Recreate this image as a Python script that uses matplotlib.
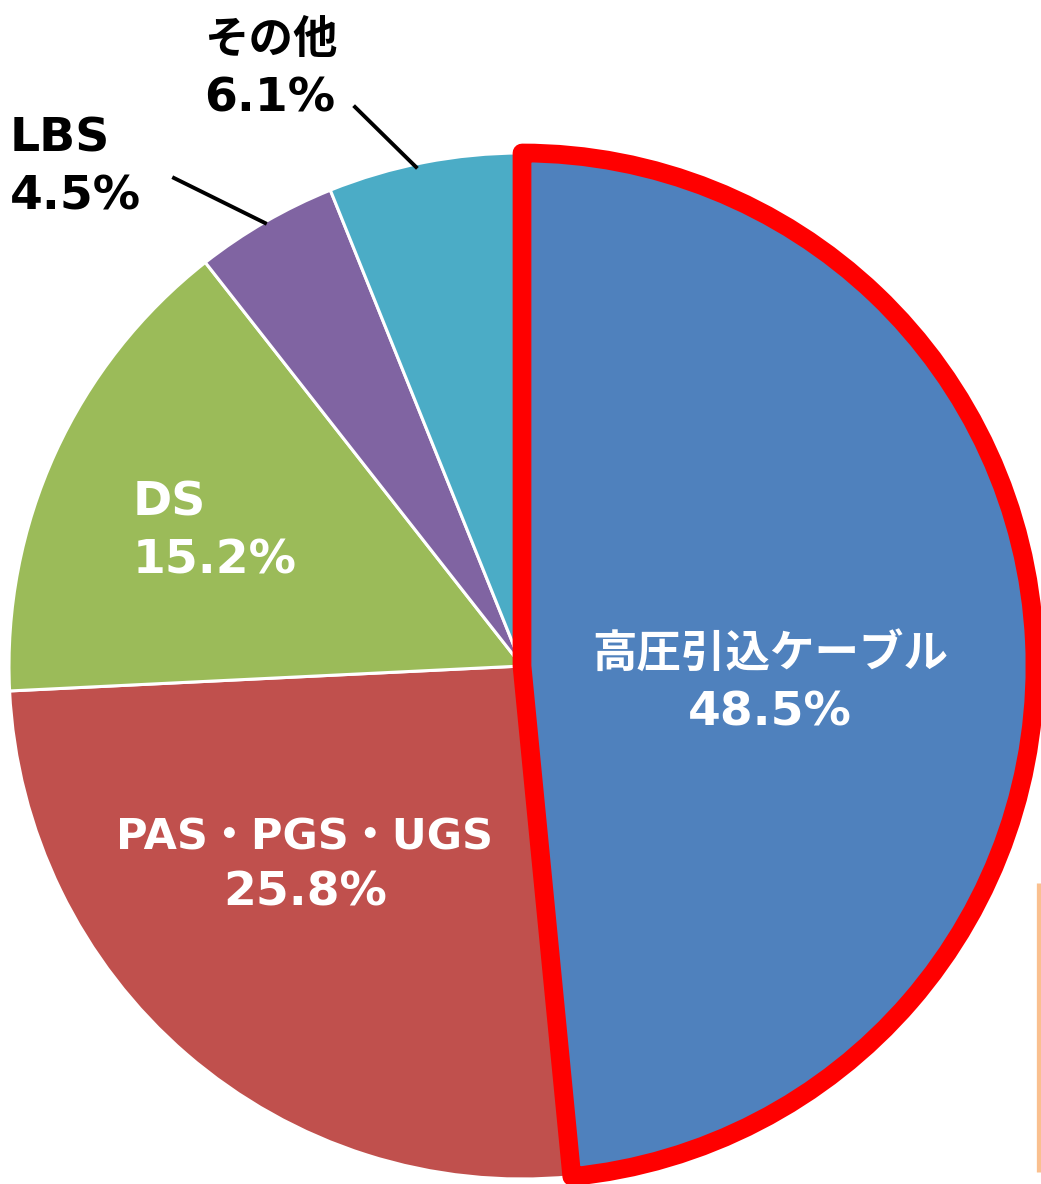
import matplotlib
matplotlib.use("Agg")
import matplotlib.pyplot as plt

# データ
labels = ["高圧引込ケーブル", "PAS・PGS・UGS", "DS", "LBS", "その他"]
values = [48.5, 25.8, 15.2, 4.5, 6.1]
colors = ["#4F81BD", "#C0504D", "#9BBB59", "#8064A2", "#4BACC6"]

W, H = 1041, 1184
fam = ["DejaVu Sans", "Noto Sans CJK JP"]

def py(y):
    # ピクセル座標(上から) -> データ座標(下から)
    return H - y

fig = plt.figure(figsize=(W / 100, H / 100), dpi=100)
ax = fig.add_axes([0, 0, 1, 1])

wedges, _ = ax.pie(values, colors=colors, startangle=90, counterclock=False,
                   center=(522, py(666)), radius=513, frame=True,
                   wedgeprops=dict(edgecolor="white", linewidth=2.2))
ax.set_xlim(0, W)
ax.set_ylim(0, H)
ax.set_aspect("equal")
ax.axis("off")

# 強調する扇形（赤枠）
wedges[0].set_edgecolor("#FF0000")
wedges[0].set_linewidth(13.5)
wedges[0].set_joinstyle("round")
wedges[0].set_zorder(5)

# ラベル位置 (x, 1行目のベースライン, 2行目のベースライン, ha, 色)
label_pos = [
    (770, 668, 725, "center", "white"),
    (305, 850, 905, "center", "white"),
    (133, 515, 573, "left", "white"),
    (10, 152, 210, "left", "black"),
    (204, 53, 112, "left", "black"),
]
name_size = [32, 31, 34, 34, 32]

for lab, v, (x, y1, y2, ha, c), fs in zip(labels, values, label_pos, name_size):
    ax.text(x, py(y1), lab, ha=ha, va="baseline", color=c, fontsize=fs,
            fontweight="bold", family=fam, zorder=10)
    ax.text(x, py(y2), f"{v:.1f}%", ha=ha, va="baseline", color=c, fontsize=34,
            fontweight="bold", family=fam, zorder=10)

# 引出線
ax.plot([174, 265], [py(178), py(223)], color="black", lw=2.8, zorder=6)
ax.plot([355, 416], [py(107), py(167)], color="black", lw=2.8, zorder=6)

# 右下のオレンジの線
ax.plot([1038.5, 1038.5], [py(883), py(1172)], color="#FAC08F", lw=3.8,
        solid_capstyle="butt", zorder=6)

fig.savefig("out.png", dpi=100)
